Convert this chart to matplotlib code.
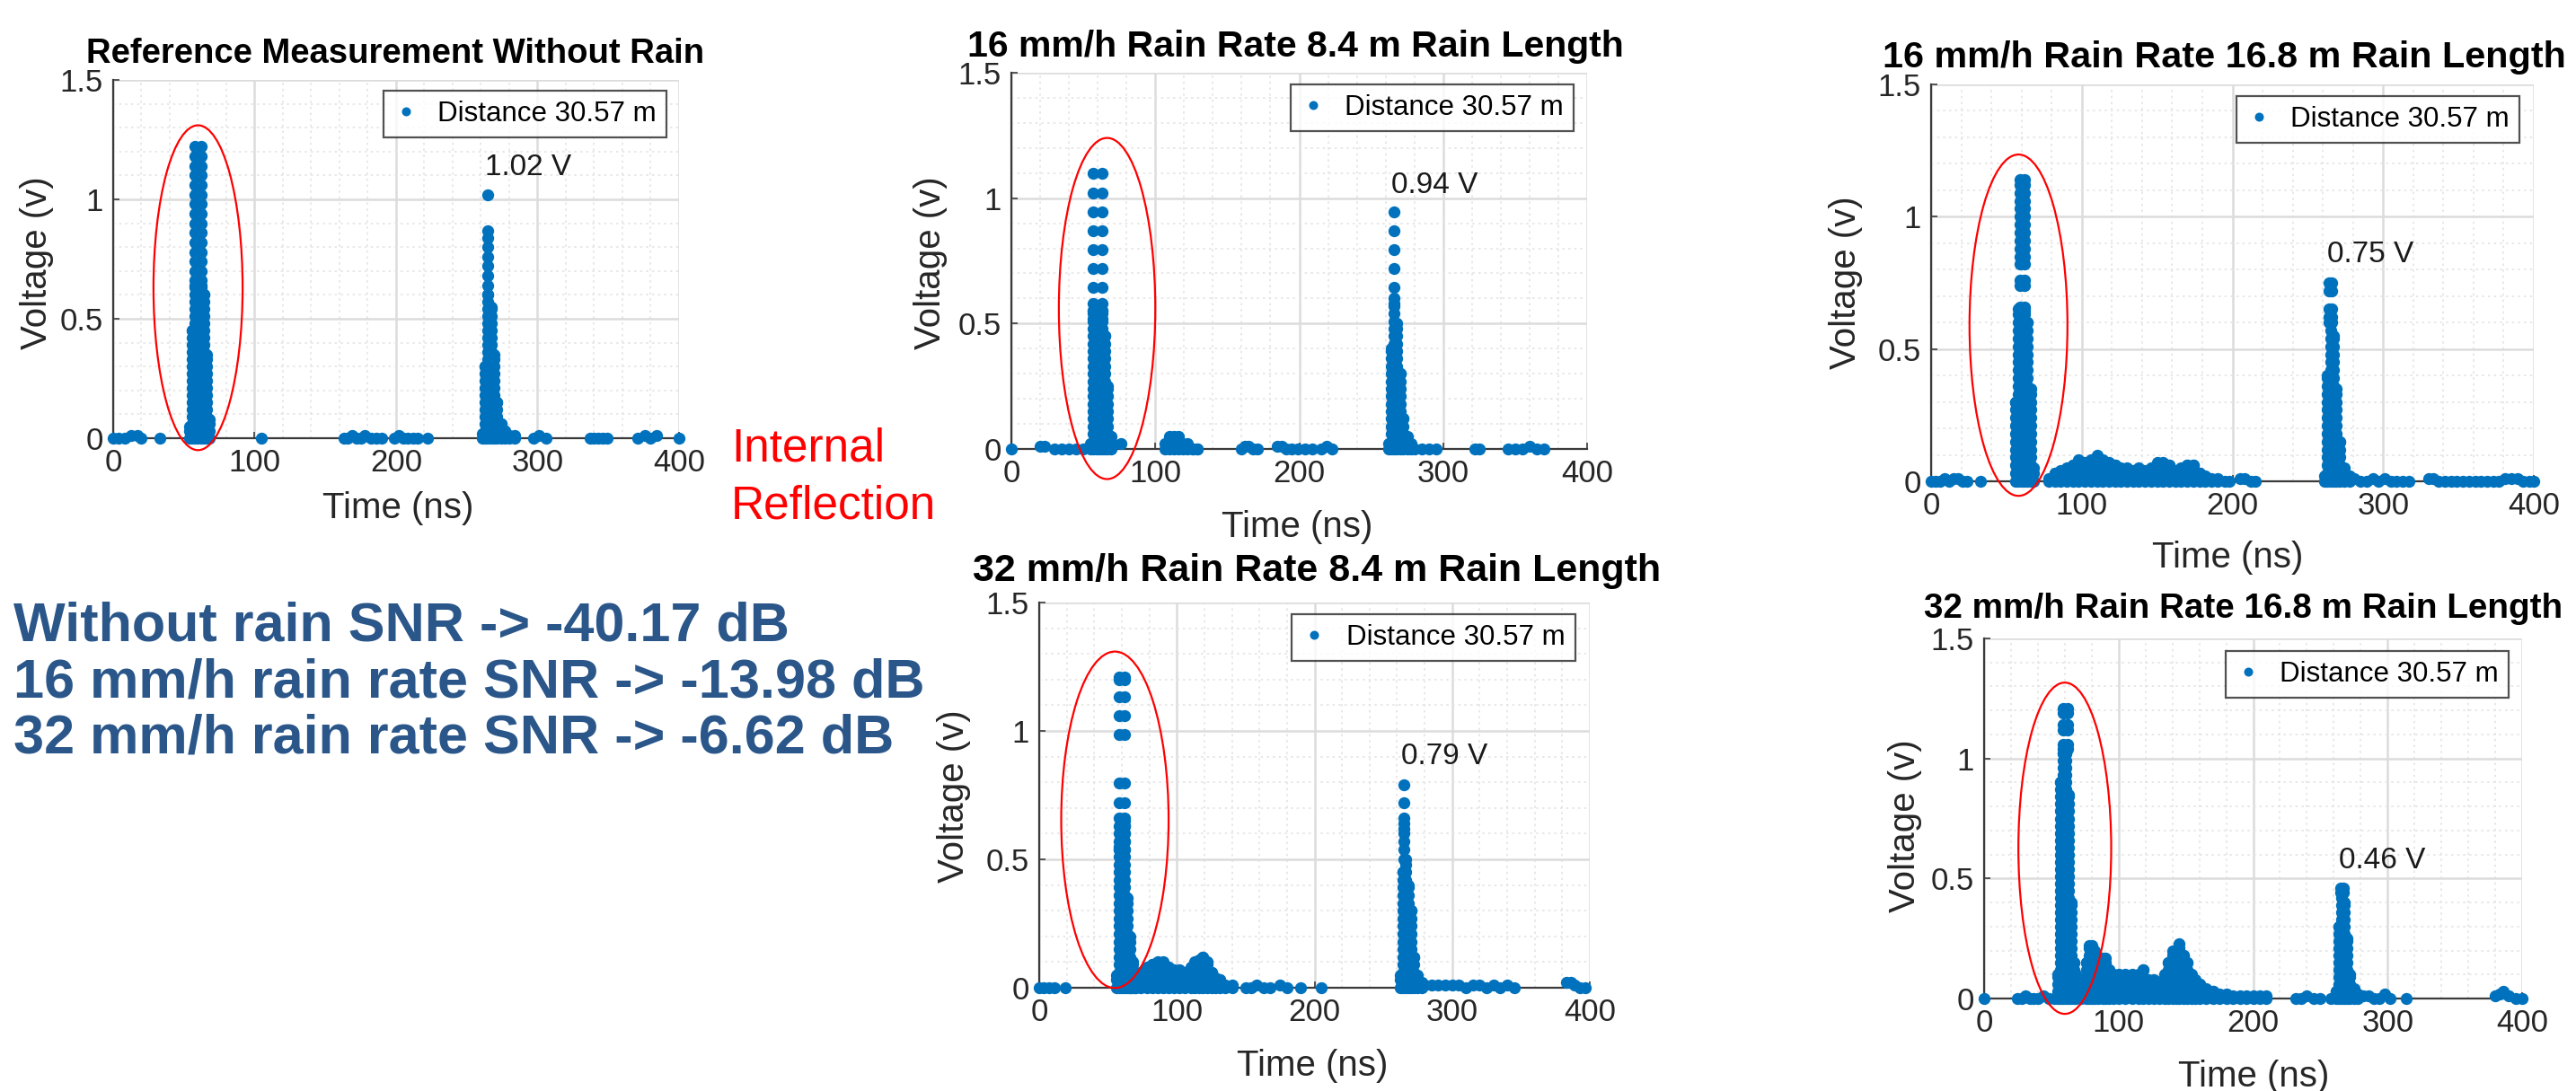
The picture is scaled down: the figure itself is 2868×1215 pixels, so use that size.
import matplotlib
matplotlib.use("Agg")
import matplotlib.pyplot as plt
from matplotlib.patches import Ellipse
from matplotlib.ticker import MultipleLocator, FixedLocator

plt.rcParams['font.family'] = ['Liberation Sans', 'DejaVu Sans']

# ---------------------------------------------------------------- data
x_ticks = [0, 100, 200, 300, 400]
y_ticks = [0, 0.5, 1, 1.5]
y_ticklabels = ['0', '0.5', '1', '1.5']
legend_label = 'Distance 30.57 m'

# stacking levels used to render the dense (overlapping) parts of each burst
dense_levels = [0.0, 0.03, 0.06, 0.09, 0.12, 0.15, 0.18, 0.21, 0.24, 0.27, 0.30, 0.33,
                0.36, 0.39, 0.42, 0.45, 0.48, 0.51, 0.54, 0.57, 0.60, 0.63, 0.66, 0.69,
                0.72, 0.75, 0.78, 0.81, 0.84, 0.87, 0.90, 0.93, 0.96, 0.99, 1.02, 1.05]

# Panel 1: reference without rain
ref_noise_t = [0, 4, 8, 13, 17, 20, 33, 105, 163, 166, 169, 172, 175, 178, 182, 186, 190,
               199, 202, 205, 208, 212, 215, 222, 297, 301, 306, 337, 340, 343, 346, 349,
               371, 376, 380, 384, 400]
ref_noise_v = [0, 0, 0, 0.01, 0.01, 0, 0, 0, 0, 0, 0.01, 0, 0, 0.01, 0, 0, 0,
               0, 0.01, 0, 0, 0, 0, 0, 0, 0.01, 0, 0, 0, 0, 0, 0,
               0, 0.01, 0, 0.01, 0]
ref_ir_peak_t = [58, 62]
ref_ir_peak_v = [1.22, 1.18, 1.14, 1.10, 1.06, 1.02, 0.98, 0.94, 0.90, 0.86, 0.82,
                 0.78, 0.74, 0.70, 0.66]
ref_ir_prof_t = [54, 56, 58, 60, 62, 64, 66, 68]
ref_ir_prof_top = [0.05, 0.45, 0.64, 0.64, 0.64, 0.60, 0.35, 0.08]
ref_tg_peak_t = [265]
ref_tg_peak_v = [1.02, 0.87, 0.84, 0.80, 0.76, 0.72, 0.68, 0.64]
ref_tg_prof_t = [261, 263, 265, 267, 269, 271, 274, 277, 280, 284]
ref_tg_prof_top = [0.02, 0.30, 0.60, 0.55, 0.35, 0.15, 0.06, 0.03, 0.01, 0.01]
ref_clutter_t = []
ref_clutter_top = []

# Panel 2: 16 mm/h, 8.4 m
r16a_noise_t = [0, 20, 23, 30, 35, 40, 45, 50, 76, 160, 162, 165, 168, 171, 185, 188, 191,
                195, 199, 204, 209, 215, 219, 223, 280, 285, 290, 295, 322, 325, 345, 350,
                355, 360, 365, 370]
r16a_noise_v = [0, 0.01, 0.01, 0, 0, 0, 0, 0, 0.02, 0, 0.01, 0.01, 0, 0, 0.01, 0.01, 0,
                0, 0, 0, 0, 0, 0.01, 0, 0, 0, 0, 0, 0, 0, 0, 0,
                0, 0.01, 0, 0]
r16a_ir_peak_t = [57, 63]
r16a_ir_peak_v = [1.10, 1.02, 0.945, 0.87, 0.795, 0.72, 0.645, 0.58, 0.55, 0.52]
r16a_ir_prof_t = [55, 57, 59, 61, 63, 65, 67, 69]
r16a_ir_prof_top = [0.02, 0.55, 0.55, 0.50, 0.55, 0.45, 0.25, 0.05]
r16a_tg_peak_t = [266]
r16a_tg_peak_v = [0.945, 0.87, 0.795, 0.72, 0.645, 0.60]
r16a_tg_prof_t = [262, 264, 266, 268, 270, 272, 275, 278]
r16a_tg_prof_top = [0.02, 0.40, 0.58, 0.50, 0.30, 0.12, 0.05, 0.02]
r16a_clutter_t = [107, 110, 113, 116, 119, 122, 126, 129]
r16a_clutter_top = [0.02, 0.05, 0.05, 0.05, 0.02, 0.02, 0.0, 0.0]

# Panel 3: 16 mm/h, 16.8 m
r16b_noise_t = [0, 3, 6, 9, 12, 15, 18, 21, 24, 33, 195, 198, 205, 208, 212, 215, 277, 281,
                285, 289, 293, 297, 301, 305, 309, 313, 317, 330, 333, 337, 341, 345, 349,
                353, 357, 361, 365, 369, 373, 377, 381, 385, 389, 393, 397, 400]
r16b_noise_v = [0, 0, 0, 0.01, 0, 0.01, 0.01, 0, 0, 0, 0, 0, 0.01, 0.01, 0, 0, 0.01, 0.01,
                0, 0, 0.01, 0, 0.01, 0, 0, 0, 0, 0.01, 0.01, 0, 0, 0, 0,
                0, 0, 0, 0, 0, 0, 0, 0.01, 0.01, 0.01, 0, 0, 0]
r16b_ir_peak_t = [59, 62]
r16b_ir_peak_v = [1.14, 1.12, 1.09, 1.06, 1.03, 1.00, 0.97, 0.94, 0.91, 0.88, 0.85,
                  0.82, 0.76, 0.74, 0.66, 0.64]
r16b_ir_prof_t = [56, 58, 60, 62, 64, 66, 68]
r16b_ir_prof_top = [0.30, 0.65, 0.65, 0.65, 0.60, 0.35, 0.05]
r16b_tg_peak_t = [264, 266]
r16b_tg_peak_v = [0.75, 0.72, 0.65, 0.62, 0.60]
r16b_tg_prof_t = [261, 263, 265, 267, 269, 271, 274, 278]
r16b_tg_prof_top = [0.02, 0.40, 0.60, 0.55, 0.35, 0.15, 0.05, 0.02]
r16b_clutter_t = [78, 82, 86, 90, 94, 98, 102, 106, 110, 114, 118, 122, 126, 130, 134, 138,
                  142, 146, 150, 154, 158, 162, 166, 170, 174, 178, 182, 186, 190]
r16b_clutter_top = [0.01, 0.03, 0.04, 0.05, 0.06, 0.08, 0.07, 0.08, 0.10, 0.08, 0.07, 0.06,
                    0.05, 0.05, 0.04, 0.05, 0.04, 0.05, 0.07, 0.07, 0.06, 0.04, 0.05, 0.06,
                    0.06, 0.03, 0.02, 0.01, 0.01]

# Panel 4: 32 mm/h, 8.4 m
r32a_noise_t = [0, 3, 7, 11, 19, 150, 154, 158, 163, 168, 175, 180, 190, 205, 280, 285, 290,
                295, 300, 305, 310, 315, 320, 325, 330, 335, 340, 345, 383, 386, 389, 393, 397]
r32a_noise_v = [0, 0, 0, 0, 0, 0, 0, 0.01, 0, 0, 0.01, 0, 0, 0, 0.01, 0.01, 0.01,
                0.01, 0.01, 0.01, 0, 0.01, 0.01, 0, 0.01, 0, 0.01, 0, 0.02, 0.02, 0.01, 0, 0]
r32a_ir_peak_t = [58, 62]
r32a_ir_peak_v = [1.21, 1.20, 1.133, 1.058, 0.985, 0.796, 0.72, 0.66, 0.63, 0.60, 0.57, 0.54]
r32a_ir_prof_t = [56, 58, 60, 62, 64, 66, 68, 70]
r32a_ir_prof_top = [0.05, 0.55, 0.65, 0.65, 0.35, 0.20, 0.10, 0.05]
r32a_tg_peak_t = [265]
r32a_tg_peak_v = [0.79, 0.72, 0.66, 0.64, 0.62, 0.60, 0.57, 0.54, 0.50]
r32a_tg_prof_t = [262, 264, 266, 268, 270, 272, 275, 278]
r32a_tg_prof_top = [0.05, 0.45, 0.50, 0.40, 0.30, 0.12, 0.05, 0.02]
r32a_clutter_t = [66, 70, 74, 78, 82, 86, 90, 94, 98, 102, 106, 110, 113, 116, 119, 122, 125,
                  128, 131, 135, 140]
r32a_clutter_top = [0.04, 0.05, 0.06, 0.08, 0.09, 0.10, 0.10, 0.08, 0.07, 0.07, 0.06, 0.08,
                    0.10, 0.11, 0.12, 0.10, 0.06, 0.04, 0.03, 0.01, 0.01]

# Panel 5: 32 mm/h, 16.8 m
r32b_noise_t = [0, 25, 28, 31, 34, 37, 40, 44, 48, 52, 232, 236, 240, 245, 250, 258, 282, 286,
                290, 294, 298, 302, 314, 380, 383, 386, 390, 395, 400]
r32b_noise_v = [0, 0, 0, 0.01, 0, 0, 0, 0.01, 0, 0, 0, 0, 0.01, 0, 0, 0, 0.01, 0.01,
                0, 0, 0.02, 0, 0, 0.01, 0.02, 0.03, 0.01, 0, 0]
r32b_ir_peak_t = [59, 62]
r32b_ir_peak_v = [1.21, 1.19, 1.14, 1.12, 1.06, 1.04]
r32b_ir_prof_t = [55, 57, 59, 61, 63, 65, 67]
r32b_ir_prof_top = [0.10, 0.90, 1.02, 1.02, 0.85, 0.40, 0.15]
r32b_tg_peak_t = [265, 267]
r32b_tg_peak_v = [0.46, 0.44]
r32b_tg_prof_t = [262, 264, 266, 268, 270, 272, 275, 278]
r32b_tg_prof_top = [0.03, 0.30, 0.44, 0.40, 0.25, 0.10, 0.04, 0.02]
r32b_clutter_t = [68, 72, 76, 78, 80, 82, 85, 88, 90, 93, 96, 100, 105, 110, 115, 118, 122,
                  126, 130, 134, 137, 140, 143, 145, 148, 151, 154, 157, 160, 165, 170, 175,
                  180, 185, 190, 195, 200, 205, 210]
r32b_clutter_top = [0.10, 0.08, 0.15, 0.22, 0.22, 0.20, 0.12, 0.17, 0.17, 0.12, 0.10, 0.10,
                    0.10, 0.10, 0.10, 0.12, 0.08, 0.08, 0.06, 0.10, 0.15, 0.20, 0.20, 0.23,
                    0.18, 0.15, 0.10, 0.08, 0.06, 0.04, 0.03, 0.02, 0.02, 0.01, 0.01, 0.01,
                    0.01, 0.01, 0.01]

titles = ['Reference Measurement Without Rain',
          '16 mm/h Rain Rate 8.4 m Rain Length',
          '16 mm/h Rain Rate 16.8 m Rain Length',
          '32 mm/h Rain Rate 8.4 m Rain Length',
          '32 mm/h Rain Rate 16.8 m Rain Length']
peak_labels = ['1.02 V', '0.94 V', '0.75 V', '0.79 V', '0.46 V']
peak_values = [1.02, 0.94, 0.75, 0.79, 0.46]
peak_times = [265, 266, 265, 265, 266]
# red ellipses around the internal reflection: centre time, centre voltage, width, height
ellipse_t = [60, 66.5, 58, 55, 60]
ellipse_v = [0.63, 0.56, 0.59, 0.654, 0.626]
ellipse_w = [63, 67, 65, 78, 69]
ellipse_h = [1.36, 1.36, 1.29, 1.31, 1.38]

snr_lines = ['Without rain SNR -> -40.17 dB',
             '16 mm/h rain rate SNR -> -13.98 dB',
             '32 mm/h rain rate SNR -> -6.62 dB']
annotation_text = 'Internal\nReflection'

series = [
    (ref_noise_t, ref_noise_v, ref_ir_peak_t, ref_ir_peak_v, ref_ir_prof_t, ref_ir_prof_top,
     ref_tg_peak_t, ref_tg_peak_v, ref_tg_prof_t, ref_tg_prof_top, ref_clutter_t, ref_clutter_top),
    (r16a_noise_t, r16a_noise_v, r16a_ir_peak_t, r16a_ir_peak_v, r16a_ir_prof_t, r16a_ir_prof_top,
     r16a_tg_peak_t, r16a_tg_peak_v, r16a_tg_prof_t, r16a_tg_prof_top, r16a_clutter_t, r16a_clutter_top),
    (r16b_noise_t, r16b_noise_v, r16b_ir_peak_t, r16b_ir_peak_v, r16b_ir_prof_t, r16b_ir_prof_top,
     r16b_tg_peak_t, r16b_tg_peak_v, r16b_tg_prof_t, r16b_tg_prof_top, r16b_clutter_t, r16b_clutter_top),
    (r32a_noise_t, r32a_noise_v, r32a_ir_peak_t, r32a_ir_peak_v, r32a_ir_prof_t, r32a_ir_prof_top,
     r32a_tg_peak_t, r32a_tg_peak_v, r32a_tg_prof_t, r32a_tg_prof_top, r32a_clutter_t, r32a_clutter_top),
    (r32b_noise_t, r32b_noise_v, r32b_ir_peak_t, r32b_ir_peak_v, r32b_ir_prof_t, r32b_ir_prof_top,
     r32b_tg_peak_t, r32b_tg_peak_v, r32b_tg_prof_t, r32b_tg_prof_top, r32b_clutter_t, r32b_clutter_top),
]

# ---------------------------------------------------------------- layout (pixels)
W, H = 2868, 1215
axes_px = [(126, 756, 89, 488), (1126, 1767, 81, 500), (2150, 2821, 94, 536),
           (1157, 1770, 671, 1100), (2209, 2808, 711, 1112)]
# title: left x, baseline y, font size
title_px = [(96, 70, 27.5), (1077, 63, 29.5), (2096, 75, 29.8),
            (1083, 647, 31.0), (2142, 688, 27.8)]
xlabel_px = [(443, 566), (1444, 587), (2480, 621), (1461, 1187), (2509, 1199)]
ylabel_px = [(41, 293), (1036, 293), (2055, 315), (1062, 887), (2121, 920)]
legend_px = [(742, 101), (1752, 94), (2805, 107), (1754, 684), (2793, 725)]

BLUE = '#0072BD'
AXC = '#262626'


def fx(x):
    return x / W


def fy(y):
    return 1 - y / H


def stack(ts, tops):
    xs, ys = [], []
    for t, top in zip(ts, tops):
        for lv in dense_levels:
            if lv <= top:
                xs.append(t)
                ys.append(lv)
        xs.append(t)
        ys.append(top)
    return xs, ys


fig = plt.figure(figsize=(W / 100, H / 100), dpi=100)
fig.patch.set_facecolor('white')

for i, s in enumerate(series):
    (n_t, n_v, ip_t, ip_v, ipr_t, ipr_top, tp_t, tp_v, tpr_t, tpr_top, c_t, c_top) = s
    x0, x1, yt, yb = axes_px[i]
    ax = fig.add_axes([fx(x0), fy(yb), (x1 - x0) / W, (yb - yt) / H])
    ax.set_xlim(0, 400)
    ax.set_ylim(0, 1.5)

    xs, ys = list(n_t), list(n_v)
    for t in ip_t:
        xs += [t] * len(ip_v)
        ys += list(ip_v)
    for t in tp_t:
        xs += [t] * len(tp_v)
        ys += list(tp_v)
    for pt, ptop in ((ipr_t, ipr_top), (tpr_t, tpr_top), (c_t, c_top)):
        a, b = stack(pt, ptop)
        xs += a
        ys += b
    ax.plot(xs, ys, linestyle='none', marker='o', ms=9.6, mew=0, color=BLUE,
            label=legend_label, clip_on=False, zorder=3)

    ax.add_patch(Ellipse((ellipse_t[i], ellipse_v[i]), ellipse_w[i], ellipse_h[i],
                         fill=False, edgecolor='#FF0000', lw=1.6, clip_on=False, zorder=4))

    ax.text(peak_times[i] - 2, peak_values[i] + 0.055, peak_labels[i], fontsize=24,
            ha='left', va='bottom', color='#1a1a1a', zorder=5)

    ax.xaxis.set_major_locator(FixedLocator(x_ticks))
    ax.yaxis.set_major_locator(FixedLocator(y_ticks))
    ax.set_yticklabels(y_ticklabels)
    ax.xaxis.set_minor_locator(MultipleLocator(20))
    ax.yaxis.set_minor_locator(MultipleLocator(0.1))
    ax.grid(True, which='major', color='#dcdcdc', lw=1.8, zorder=0)
    ax.grid(True, which='minor', color='#e4e4e4', lw=1.2, ls=(0, (1.5, 2.5)), zorder=0)
    ax.set_axisbelow(True)
    for sp in ('top', 'right'):
        ax.spines[sp].set_visible(False)
    for sp in ('left', 'bottom'):
        ax.spines[sp].set_color('#3a3a3a')
        ax.spines[sp].set_linewidth(1.6)
    ax.tick_params(which='major', direction='in', length=5, width=1.2, colors='#3a3a3a',
                   labelsize=25, labelcolor=AXC, pad=8)
    ax.tick_params(which='minor', length=0)

    leg = ax.legend(loc='upper right', bbox_to_anchor=(fx(legend_px[i][0]), fy(legend_px[i][1])),
                    bbox_transform=fig.transFigure, borderaxespad=0, fontsize=22.5,
                    frameon=True, fancybox=False, handlelength=0.9, handletextpad=0.7,
                    borderpad=0.35, markerscale=0.75)
    leg.get_frame().set_edgecolor(AXC)
    leg.get_frame().set_linewidth(1.6)

    tx, ty, tsz = title_px[i]
    fig.text(fx(tx), fy(ty), titles[i], fontsize=tsz, fontweight='bold', ha='left',
             va='baseline', color='black')
    fig.text(fx(xlabel_px[i][0]), fy(xlabel_px[i][1]), 'Time (ns)', fontsize=29, ha='center',
             va='center', color=AXC)
    fig.text(fx(ylabel_px[i][0]), fy(ylabel_px[i][1]), 'Voltage (v)', fontsize=29, ha='center',
             va='center', rotation=90, color=AXC)

# left-hand annotations
for k, line in enumerate(snr_lines):
    fig.text(fx(15), fy(698 + 62.5 * k), line, fontsize=44, fontweight='bold', color='#2A5689',
             ha='left', va='center')
fig.text(fx(814), fy(532), annotation_text, fontsize=37, color='#FF0000', ha='left',
         va='center', linespacing=1.4)

fig.savefig('out.png', dpi=100, facecolor='white')
